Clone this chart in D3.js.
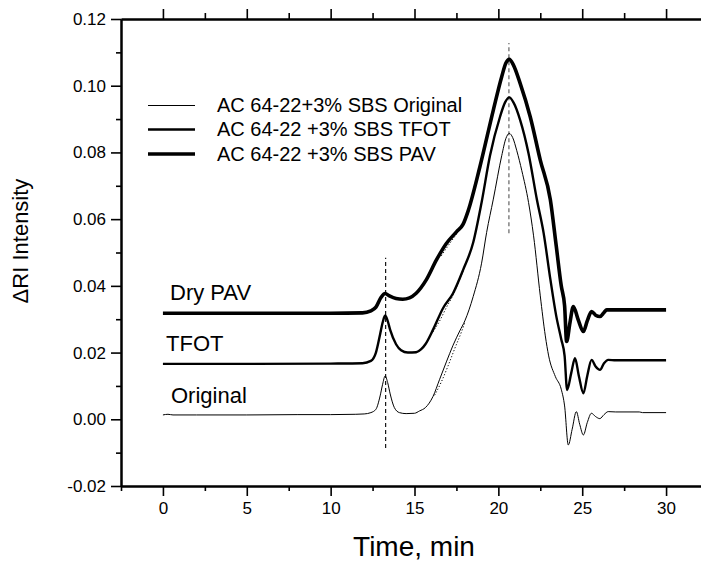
<!DOCTYPE html>
<html>
<head>
<meta charset="utf-8">
<script src="https://cdn.jsdelivr.net/npm/d3@7"></script>
<style>
html,body{margin:0;padding:0;background:#fff;}
svg{display:block;font-family:"Liberation Sans",Arial,Helvetica,sans-serif;}
</style>
</head>
<body>
<svg id="chart" width="701" height="565"></svg>
<script>
// ---- data (time in min, ΔRI intensity) ----
const xMajorTicks = [0, 5, 10, 15, 20, 25, 30];
const xMinorTicks = [-2.5, 2.5, 7.5, 12.5, 17.5, 22.5, 27.5];
const yMajorTicks = [-0.02, 0.00, 0.02, 0.04, 0.06, 0.08, 0.10, 0.12];
const yMinorTicks = [-0.01, 0.01, 0.03, 0.05, 0.07, 0.09, 0.11];

const seriesNames = ["AC 64-22+3% SBS Original", "AC 64-22 +3% SBS TFOT", "AC 64-22 +3% SBS PAV"];
const curveLabels = ["Original", "TFOT", "Dry PAV"];

const original = [
  [0,0.0013],[0.3,0.0015],[0.6,0.0013],[2,0.0013],[5,0.0013],[8,0.0014],[10,0.0014],[11.5,0.0015],[12.0,0.0016],[12.4,0.0020],
  [12.7,0.0030],[12.95,0.0070],[13.1,0.0105],[13.25,0.0130],[13.4,0.0110],[13.55,0.0076],[13.8,0.0035],
  [14.1,0.0020],[14.5,0.0017],[15.0,0.0018],[15.3,0.0025],[15.65,0.0035],[16.1,0.0068],[16.5,0.0120],
  [16.9,0.0172],[17.3,0.0222],[17.7,0.0265],[18.0,0.0295],[18.5,0.0368],[19.0,0.0468],[19.3,0.0560],
  [19.7,0.0660],[20.2,0.0790],[20.45,0.0842],[20.65,0.0857],[20.85,0.0845],[21.1,0.0805],[21.4,0.0745],
  [21.8,0.0650],[22.1,0.0550],[22.5,0.0370],[22.8,0.0250],[23.0,0.0190],[23.4,0.0128],[23.75,0.0090],
  [23.95,0.0040],[24.17,-0.0077],[24.4,-0.0030],[24.65,0.0023],[24.85,-0.0015],[25.07,-0.0047],
  [25.3,-0.0010],[25.55,0.0018],[25.8,0.0008],[26.05,0.0002],[26.3,0.0014],[26.55,0.0023],[27,0.0022],
  [28.4,0.0022],[28.6,0.0020],[30,0.0020]
];
const tfot = [
  [0,0.0166],[5,0.0166],[10,0.0167],[11.9,0.0168],[12.4,0.0175],[12.7,0.0200],[12.95,0.0255],[13.1,0.0290],
  [13.25,0.0311],[13.4,0.0295],[13.55,0.0268],[13.9,0.0225],[14.2,0.0207],[14.6,0.0200],[15.1,0.0201],
  [15.4,0.0210],[15.65,0.0225],[16.1,0.0268],[16.7,0.0333],[17.3,0.0378],[17.9,0.0448],[18.5,0.0530],
  [19.0,0.0650],[19.5,0.0790],[20.1,0.0907],[20.4,0.0950],[20.65,0.0965],[20.9,0.0950],[21.3,0.0897],
  [21.8,0.0797],[22.3,0.0658],[22.7,0.0558],[23.1,0.0420],[23.45,0.0310],[23.75,0.0240],[23.95,0.0190],
  [24.1,0.0088],[24.35,0.0140],[24.57,0.0183],[24.8,0.0130],[25.07,0.0078],[25.3,0.0130],[25.56,0.0178],
  [25.8,0.0158],[26.06,0.0148],[26.3,0.0168],[26.55,0.0178],[27,0.0177],[30,0.0177]
];
const pav = [
  [0,0.0318],[5,0.0318],[10,0.0318],[11.9,0.0319],[12.4,0.0325],[12.7,0.0336],[13.0,0.0365],[13.25,0.0377],
  [13.5,0.0370],[13.9,0.0362],[14.3,0.0360],[14.7,0.0364],[15.1,0.0378],[15.7,0.0418],[16.3,0.0477],
  [16.9,0.0527],[17.5,0.0562],[17.9,0.0585],[18.2,0.0625],[18.9,0.0757],[19.7,0.0927],[20.2,0.1027],
  [20.45,0.1068],[20.65,0.1079],[20.9,0.1062],[21.3,0.1007],[21.9,0.0907],[22.5,0.0777],[23.1,0.0658],
  [23.45,0.0520],[23.75,0.0400],[23.95,0.0340],[24.07,0.0233],[24.27,0.0290],[24.47,0.0338],[24.75,0.0300],
  [25.07,0.0263],[25.3,0.0295],[25.56,0.0323],[25.8,0.0312],[26.06,0.0308],[26.3,0.0320],[26.46,0.0328],
  [27,0.0328],[30,0.0328]
];
// dotted fitted shoulders
const originalDotted = [[16.2,0.0072],[16.6,0.0112],[17.0,0.0160],[17.4,0.0212],[17.8,0.0262],[18.0,0.0290]];
const tfotDotted = [[16.1,0.0262],[16.5,0.0295],[16.9,0.0335],[17.3,0.0372],[17.7,0.0420],[17.9,0.0445]];
const pavDotted = [[16.6,0.0490],[17.0,0.0520],[17.4,0.0548],[17.8,0.0578],[18.1,0.0610]];
// dashed guide lines: [time, from, to]
const guideLines = [[13.28,-0.0086,0.0484],[20.63,0.0558,0.1128]];

// ---- drawing ----
const svg = d3.select("#chart");
const x = d3.scaleLinear().domain([-2.5, 32.5]).range([121, 708]);
const y = d3.scaleLinear().domain([-0.02, 0.12]).range([486, 19]);
const fmt = d => d.toFixed(2);

function styleAxis(g, w){
  g.select(".domain").attr("stroke","#000").attr("stroke-width",w);
  g.selectAll(".tick line").attr("stroke","#000").attr("stroke-width",1.6);
  g.selectAll(".tick text").attr("fill","#000").style("font-size","17px").style("font-family",'"Liberation Sans",Arial,sans-serif');
}
// bottom
const gb = svg.append("g").attr("transform","translate(0,486)")
  .call(d3.axisBottom(x).tickValues(xMajorTicks).tickSize(10).tickSizeOuter(0).tickPadding(6).tickFormat(d3.format("d")));
styleAxis(gb,2);
const gbm = svg.append("g").attr("transform","translate(0,486)")
  .call(d3.axisBottom(x).tickValues(xMinorTicks).tickSize(5).tickSizeOuter(0).tickFormat(""));
styleAxis(gbm,2);
// top
const gt = svg.append("g").attr("transform","translate(0,19)")
  .call(d3.axisTop(x).tickValues(xMajorTicks).tickSize(10).tickSizeOuter(0).tickFormat(""));
styleAxis(gt,2);
const gtm = svg.append("g").attr("transform","translate(0,19)")
  .call(d3.axisTop(x).tickValues(xMinorTicks.filter(v=>v>-2.5)).tickSize(6).tickSizeOuter(0).tickFormat(""));
styleAxis(gtm,2);
// left
const gl = svg.append("g").attr("transform","translate(121,0)")
  .call(d3.axisLeft(y).tickValues(yMajorTicks).tickSize(10).tickSizeOuter(0).tickPadding(5).tickFormat(fmt));
styleAxis(gl,2);
const glm = svg.append("g").attr("transform","translate(121,0)")
  .call(d3.axisLeft(y).tickValues(yMinorTicks).tickSize(5).tickSizeOuter(0).tickFormat(""));
styleAxis(glm,2);

// guide lines
svg.append("g").selectAll("line").data(guideLines).join("line")
  .attr("x1",d=>x(d[0])).attr("x2",d=>x(d[0]))
  .attr("y1",d=>y(d[1])).attr("y2",d=>y(d[2]))
  .attr("stroke",(d,i)=>i===0?"#000":"#555").attr("stroke-width",1.1)
  .attr("stroke-dasharray","4,3");

const line = d3.line().x(d=>x(d[0])).y(d=>y(d[1])).curve(d3.curveMonotoneX);
const widths = [1, 2.4, 3.6];
[original, tfot, pav].forEach((s,i)=>{
  svg.append("path").datum(s).attr("d",line).attr("fill","none")
    .attr("stroke","#000").attr("stroke-width",widths[i]).attr("stroke-linejoin","round");
});
[originalDotted, tfotDotted, pavDotted].forEach(s=>{
  svg.append("path").datum(s).attr("d",line).attr("fill","none")
    .attr("stroke","#000").attr("stroke-width",1).attr("stroke-dasharray","1.2,2");
});

// legend
const legY = [105.5, 129.5, 154];
seriesNames.forEach((n,i)=>{
  svg.append("line").attr("x1",148).attr("x2",195).attr("y1",legY[i]).attr("y2",legY[i])
    .attr("stroke","#000").attr("stroke-width",widths[i]);
  svg.append("text").attr("x",217).attr("y",legY[i]+6.5).text(n)
    .style("font-size","20px").attr("fill","#000");
});

// curve labels
const labPos = [[171,403],[166,351],[170,300]];
curveLabels.forEach((t,i)=>{
  svg.append("text").attr("x",labPos[i][0]).attr("y",labPos[i][1]).text(t)
    .style("font-size","22px").attr("fill","#000");
});

// axis titles
svg.append("text").attr("transform","translate(28,241) rotate(-90)").attr("text-anchor","middle")
  .style("font-size","22px").text("ΔRI Intensity");
svg.append("text").attr("x",414).attr("y",556).attr("text-anchor","middle")
  .style("font-size","28px").text("Time, min");
</script>
</body>
</html>
